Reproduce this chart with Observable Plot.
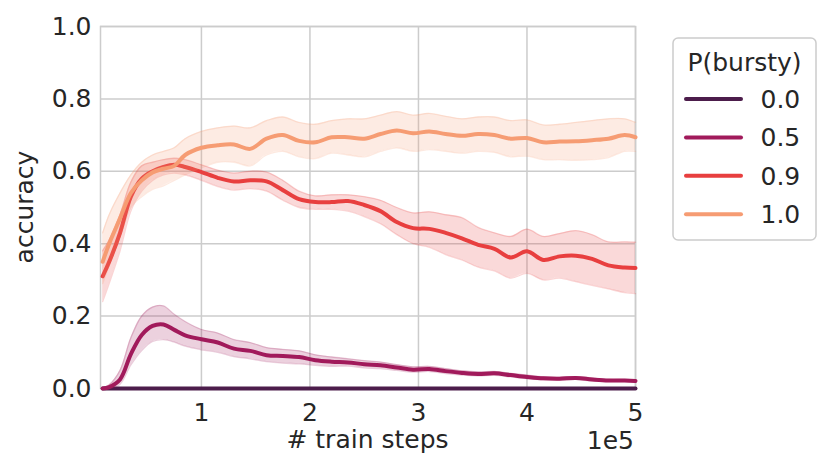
<!DOCTYPE html>
<html><head><meta charset="utf-8">
<script src="https://cdn.jsdelivr.net/npm/d3@7"></script>
<script src="https://cdn.jsdelivr.net/npm/@observablehq/plot@0.6"></script>
<style>body{margin:0;background:#fff} svg{font-family:"DejaVu Sans"}</style>
</head><body><div id="chart"></div>
<script>
const steps = [9000, 15000, 25000, 35000, 45000, 55000, 65000, 75000, 85000, 100000, 115000, 130000, 145000, 160000, 175000, 190000, 205000, 220000, 235000, 250000, 265000, 280000, 295000, 310000, 325000, 340000, 355000, 370000, 385000, 400000, 415000, 430000, 445000, 460000, 475000, 490000, 500000];

const burstyLevels = ["0.0", "0.5", "0.9", "1.0"];
const levelColors = ["#4c1d4b", "#a11a5b", "#e83f3f", "#f69c73"];
const xTicks = [100000, 200000, 300000, 400000, 500000];
const yTicks = [0, 0.2, 0.4, 0.6, 0.8, 1.0];

const mean00 = [0,0,0,0,0,0,0,0,0,0,0,0,0,0,0,0,0,0,0,0,0,0,0,0,0,0,0,0,0,0,0,0,0,0,0,0,0];

const mean05 = [0.0, 0.004, 0.025, 0.095, 0.148, 0.173, 0.177, 0.162, 0.147, 0.136, 0.127, 0.11, 0.104, 0.092, 0.09, 0.087, 0.078, 0.074, 0.072, 0.067, 0.064, 0.058, 0.052, 0.054, 0.048, 0.043, 0.04, 0.042, 0.037, 0.032, 0.028, 0.027, 0.029, 0.025, 0.022, 0.022, 0.021];
const lo05 = [0, 0, 0.012, 0.065, 0.105, 0.13, 0.135, 0.128, 0.117, 0.107, 0.10, 0.088, 0.082, 0.074, 0.07, 0.068, 0.064, 0.061, 0.062, 0.057, 0.055, 0.05, 0.045, 0.047, 0.041, 0.037, 0.035, 0.036, 0.032, 0.027, 0.024, 0.023, 0.025, 0.021, 0.019, 0.019, 0.018];
const hi05 = [0.002, 0.01, 0.05, 0.14, 0.2, 0.225, 0.228, 0.205, 0.185, 0.163, 0.153, 0.135, 0.127, 0.113, 0.108, 0.104, 0.093, 0.087, 0.082, 0.077, 0.073, 0.066, 0.06, 0.061, 0.055, 0.049, 0.046, 0.047, 0.042, 0.037, 0.032, 0.031, 0.033, 0.029, 0.025, 0.025, 0.024];

const mean09 = [0.31, 0.35, 0.43, 0.53, 0.58, 0.60, 0.612, 0.618, 0.612, 0.598, 0.582, 0.572, 0.575, 0.572, 0.548, 0.523, 0.515, 0.515, 0.518, 0.507, 0.49, 0.46, 0.443, 0.441, 0.43, 0.415, 0.397, 0.386, 0.362, 0.379, 0.355, 0.365, 0.367, 0.358, 0.34, 0.334, 0.333];
const lo09 = [0.24, 0.29, 0.38, 0.49, 0.545, 0.575, 0.59, 0.595, 0.59, 0.575, 0.558, 0.548, 0.552, 0.545, 0.52, 0.50, 0.495, 0.495, 0.49, 0.475, 0.455, 0.425, 0.40, 0.39, 0.37, 0.355, 0.335, 0.325, 0.305, 0.318, 0.30, 0.305, 0.295, 0.285, 0.275, 0.265, 0.262];
const hi09 = [0.38, 0.41, 0.48, 0.57, 0.615, 0.625, 0.632, 0.636, 0.632, 0.618, 0.603, 0.595, 0.60, 0.598, 0.575, 0.545, 0.532, 0.535, 0.535, 0.53, 0.52, 0.50, 0.485, 0.488, 0.48, 0.472, 0.445, 0.43, 0.42, 0.44, 0.42, 0.428, 0.436, 0.425, 0.405, 0.405, 0.404];

const mean10 = [0.35, 0.40, 0.47, 0.54, 0.575, 0.597, 0.607, 0.615, 0.645, 0.665, 0.672, 0.674, 0.662, 0.69, 0.70, 0.684, 0.68, 0.694, 0.694, 0.69, 0.703, 0.713, 0.705, 0.71, 0.703, 0.698, 0.703, 0.70, 0.69, 0.692, 0.68, 0.682, 0.683, 0.686, 0.69, 0.70, 0.694];
const lo10 = [0.29, 0.34, 0.42, 0.50, 0.53, 0.55, 0.56, 0.575, 0.59, 0.61, 0.625, 0.625, 0.615, 0.645, 0.655, 0.64, 0.635, 0.65, 0.645, 0.64, 0.655, 0.665, 0.655, 0.66, 0.655, 0.65, 0.655, 0.652, 0.64, 0.642, 0.632, 0.632, 0.63, 0.632, 0.638, 0.655, 0.655];
const hi10 = [0.43, 0.48, 0.54, 0.59, 0.625, 0.645, 0.655, 0.665, 0.69, 0.71, 0.72, 0.725, 0.72, 0.74, 0.75, 0.735, 0.73, 0.74, 0.745, 0.745, 0.755, 0.765, 0.755, 0.76, 0.752, 0.745, 0.75, 0.75, 0.74, 0.742, 0.728, 0.73, 0.735, 0.74, 0.745, 0.745, 0.735];

const seriesDefs = [
  {level: "0.0", mean: mean00, lo: null, hi: null},
  {level: "0.5", mean: mean05, lo: lo05, hi: hi05},
  {level: "0.9", mean: mean09, lo: lo09, hi: hi09},
  {level: "1.0", mean: mean10, lo: lo10, hi: hi10}
];

const seriesMarks = [];
for (const s of seriesDefs) {
  const rows = steps.map((st, i) => ({step: st, level: s.level, mean: s.mean[i], lo: s.lo ? s.lo[i] : null, hi: s.hi ? s.hi[i] : null}));
  if (s.lo) {
    seriesMarks.push(Plot.areaY(rows, {x: "step", y1: "lo", y2: "hi", fill: "level", fillOpacity: 0.2, curve: "catmull-rom"}));
    seriesMarks.push(Plot.lineY(rows, {x: "step", y: "lo", stroke: "level", strokeOpacity: 0.22, strokeWidth: 1.3, curve: "catmull-rom"}));
    seriesMarks.push(Plot.lineY(rows, {x: "step", y: "hi", stroke: "level", strokeOpacity: 0.22, strokeWidth: 1.3, curve: "catmull-rom"}));
  }
  seriesMarks.push(Plot.lineY(rows, {x: "step", y: "mean", stroke: "level", strokeWidth: 4, curve: "catmull-rom"}));
}

const fmtX = d => String(d / 1e5);
const plot = Plot.plot({
  width: 832, height: 473,
  marginLeft: 100, marginRight: 197, marginTop: 26, marginBottom: 85,
  style: {fontFamily: "DejaVu Sans", fontSize: "25px", color: "#262626", background: "white", overflow: "visible"},
  x: {domain: [7000, 500000]},
  y: {domain: [0, 1]},
  color: {domain: burstyLevels, range: levelColors},
  marks: [
    Plot.gridX(xTicks, {stroke: "#cccccc", strokeOpacity: 1, strokeWidth: 1.5}),
    Plot.gridY(yTicks, {stroke: "#cccccc", strokeOpacity: 1, strokeWidth: 1.5}),
    Plot.frame({stroke: "#cccccc", strokeWidth: 1.5}),
    ...seriesMarks,
    Plot.axisX({ticks: xTicks, tickFormat: fmtX, tickSize: 0, tickPadding: 15, label: null, fontSize: 25}),
    Plot.axisY({ticks: yTicks, tickFormat: d3.format(".1f"), tickSize: 0, tickPadding: 9, label: null, fontSize: 25})
  ]
});
document.getElementById("chart").appendChild(plot);

const svg = d3.select(plot);
const xs = plot.scale("x"), ys = plot.scale("y"), cs = plot.scale("color");
const xl = xs.apply(xs.domain[0]), xr = xs.apply(xs.domain[1]);
const yc = (ys.apply(0) + ys.apply(1)) / 2;

svg.append("text").attr("transform", `translate(33,${yc}) rotate(-90)`)
  .attr("text-anchor", "middle").attr("fill", "#262626").attr("font-size", 25).text("accuracy");
svg.append("text").attr("x", (xl + xr) / 2).attr("y", 448)
  .attr("text-anchor", "middle").attr("fill", "#262626").attr("font-size", 25).text("# train steps");
svg.append("text").attr("x", xr - 1).attr("y", 449)
  .attr("text-anchor", "end").attr("fill", "#262626").attr("font-size", 25).text("1e5");

const lg = svg.append("g");
lg.append("rect").attr("x", 673).attr("y", 38).attr("width", 143).attr("height", 202).attr("rx", 5)
  .attr("fill", "white").attr("stroke", "#cccccc").attr("stroke-width", 1.5);
lg.append("text").attr("x", 744.5).attr("y", 70.5).attr("text-anchor", "middle")
  .attr("fill", "#262626").attr("font-size", 25).text("P(bursty)");
burstyLevels.forEach((lev, i) => {
  const y = 99 + i * 38.4;
  lg.append("line").attr("x1", 686).attr("x2", 741).attr("y1", y).attr("y2", y)
    .attr("stroke", cs.apply(lev)).attr("stroke-width", 4).attr("stroke-linecap", "round");
  lg.append("text").attr("x", 760.5).attr("y", y + 9).attr("text-anchor", "start")
    .attr("fill", "#262626").attr("font-size", 25).text(lev);
});
</script></body></html>
